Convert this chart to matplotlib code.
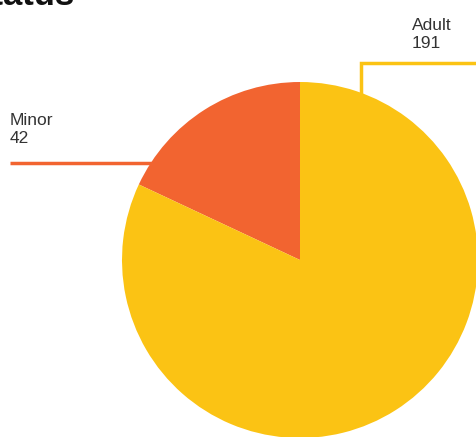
import matplotlib
matplotlib.use("Agg")
import matplotlib.pyplot as plt

# Data
categories = ["Minor", "Adult"]
counts = [42, 191]
colors = ["#F26430", "#FBC314"]
title = "Age Status"

W, H = 476, 437
fig = plt.figure(figsize=(W / 100, H / 100), dpi=100)
ax = fig.add_axes([0, 0, 1, 1])

def py(y):
    # convert a top-down pixel row into the axes' bottom-up coordinate
    return H - y

cx, cy, r = 300, 260, 178
ax.pie(counts, colors=colors, startangle=90, counterclock=True,
       center=(cx, py(cy)), radius=r, frame=True,
       wedgeprops=dict(linewidth=0))

ax.set_xlim(0, W)
ax.set_ylim(0, H)
ax.set_aspect("auto")
ax.axis("off")

font = "Liberation Sans"
txt_color = "#333333"

# Leader line and label for Minor
ax.plot([10, 182], [py(163), py(163)], color=colors[0], lw=2.5,
        solid_capstyle="butt", zorder=3)
ax.text(10, py(143), f"{categories[0]}\n{counts[0]}", fontsize=12.5,
        family=font, color=txt_color, ha="left", va="baseline",
        linespacing=1.25)

# Leader line and label for Adult
ax.plot([361, 361, 480], [py(92), py(63), py(63)], color=colors[1], lw=2.5,
        solid_joinstyle="miter", zorder=3, clip_on=False)
ax.text(412, py(48), f"{categories[1]}\n{counts[1]}", fontsize=12.5,
        family=font, color=txt_color, ha="left", va="baseline",
        linespacing=1.25)

# Title
ax.text(74, py(5), title, fontsize=25, family=font, weight="bold",
        color="#111111", ha="right", va="baseline")

fig.savefig("out.png", dpi=100)
